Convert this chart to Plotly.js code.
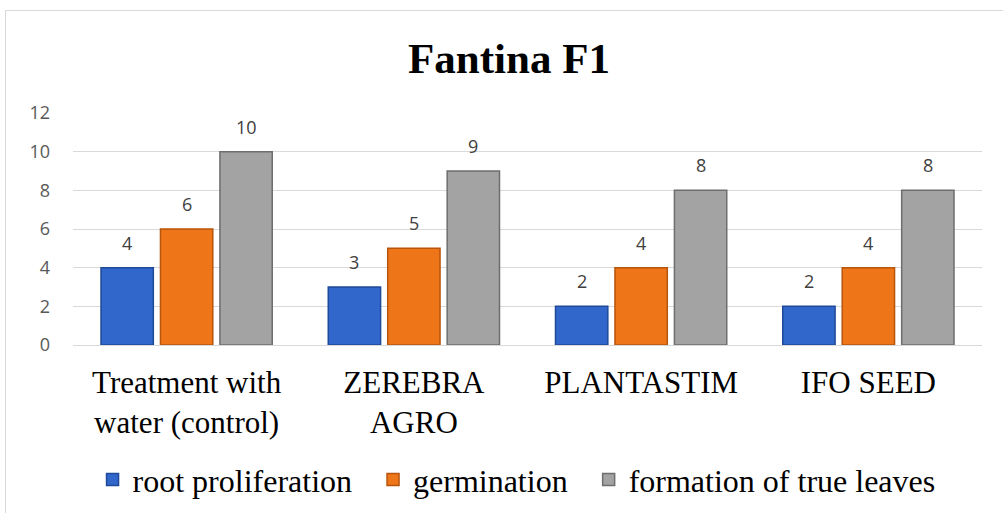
<!DOCTYPE html>
<html>
<head>
<meta charset="utf-8">
<script src="https://cdn.plot.ly/plotly-3.0.1.min.js"></script>
<style>
  html, body { margin: 0; padding: 0; background: #fff; }
  #wrap { position: relative; width: 1003px; height: 513px; overflow: hidden; }
  #chart { width: 1003px; height: 513px; }
  #frame { position: absolute; left: 5px; top: 10px; width: 1010px; height: 520px;
           border: 1px solid #d9d9d9; pointer-events: none; box-sizing: border-box; }
</style>
</head>
<body>
<div id="wrap">
  <div id="chart"></div>
  <div id="frame"></div>
</div>
<script>
const categories = ["Treatment with<br>water (control)", "ZEREBRA<br>AGRO", "PLANTASTIM", "IFO SEED"];
const seriesNames = ["root proliferation", "germination", "formation of true leaves"];
const rootProliferation = [4, 3, 2, 2];
const germination = [6, 5, 4, 4];
const trueLeaves = [10, 9, 8, 8];
const yTicks = [0, 2, 4, 6, 8, 10, 12];

const fills = ["#3167CB", "#EE7518", "#A3A3A3"];
const edges = ["#1F4A99", "#B8550C", "#6E6E6E"];
const values = [rootProliferation, germination, trueLeaves];

const W = 1003, H = 513;
const margin = { l: 73, r: 21, t: 113, b: 168 };
const bargap = 0.215, bargroupgap = 0.12;
const legendPad = "\u00a0\u00a0";

const traces = values.map((v, i) => ({
  type: "bar",
  name: seriesNames[i] + (i < values.length - 1 ? legendPad : ""),
  x: categories,
  y: v,
  marker: { color: fills[i], line: { color: edges[i], width: 1.5 } },
  hoverinfo: "none"
}));

// data labels: placed at each bar's value, shifted to its slot within the group
const plotW = W - margin.l - margin.r;
const catW = plotW / categories.length;
const slotW = catW * (1 - bargap) / values.length;
const annotations = [];
values.forEach((v, i) => {
  v.forEach((val, j) => {
    annotations.push({
      x: categories[j], y: val, xref: "x", yref: "y",
      text: String(val), showarrow: false,
      xshift: (i - (values.length - 1) / 2) * slotW,
      yshift: 25, yanchor: "middle", xanchor: "center",
      font: { family: "Open Sans, Liberation Sans, sans-serif", size: 18, color: "#404040" }
    });
  });
});

const layout = {
  width: W,
  height: H,
  paper_bgcolor: "#ffffff",
  plot_bgcolor: "#ffffff",
  margin: margin,
  title: {
    text: "<b>Fantina F1</b>",
    font: { family: "Liberation Serif, Times New Roman, serif", size: 43, color: "#000000" },
    x: 0.5075, xanchor: "center",
    y: 0.887, yanchor: "middle", yref: "container"
  },
  barmode: "group",
  bargap: bargap,
  bargroupgap: bargroupgap,
  annotations: annotations,
  xaxis: {
    type: "category",
    automargin: false,
    tickfont: { family: "Liberation Serif, Times New Roman, serif", size: 31, color: "#000000" },
    showgrid: false,
    showline: false,
    ticks: "",
    ticklabelstandoff: 16
  },
  yaxis: {
    range: [0, 12],
    automargin: false,
    tickvals: yTicks,
    ticktext: yTicks.map(String),
    tickfont: { family: "Open Sans, Liberation Sans, sans-serif", size: 18, color: "#595959" },
    showgrid: true,
    gridcolor: "#d9d9d9",
    gridwidth: 1,
    zeroline: true,
    zerolinecolor: "#d9d9d9",
    zerolinewidth: 1,
    showline: false,
    ticks: "",
    ticklabelstandoff: 22
  },
  showlegend: true,
  legend: {
    orientation: "h",
    x: 0.515, xanchor: "center", xref: "container",
    y: 0.065, yanchor: "middle", yref: "container",
    font: { family: "Liberation Serif, Times New Roman, serif", size: 32, color: "#000000" },
    itemwidth: 30,
    tracegroupgap: 0,
    traceorder: "normal"
  }
};

Plotly.newPlot("chart", traces, layout, { staticPlot: true, displayModeBar: false });
</script>
</body>
</html>
